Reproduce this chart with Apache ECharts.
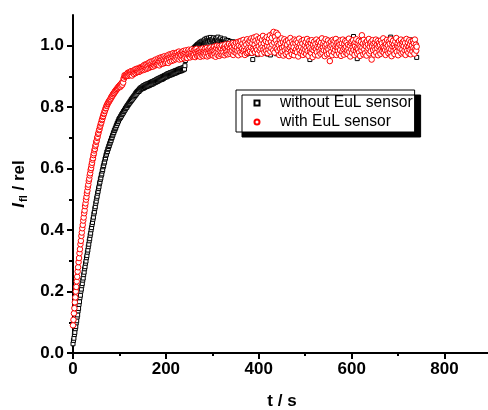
<!DOCTYPE html>
<html>
<head>
<meta charset="utf-8">
<script src="https://cdn.jsdelivr.net/npm/echarts@6/dist/echarts.min.js"></script>
<style>html,body{margin:0;padding:0;background:#fff;}#chart{width:488px;height:410px;}</style>
</head>
<body>
<div id="chart"></div>
<script>
// ---- data ----
const seriesNames = ['without EuL sensor', 'with EuL sensor'];
const xTickValues = [0, 200, 400, 600, 800];
const xMinorTickValues = [100, 300, 500, 700];
const yTickValues = [0, 0.2, 0.4, 0.6, 0.8, 1.0];
const yMinorTickValues = [0.1, 0.3, 0.5, 0.7, 0.9];

// measurement times (s)
const times = [
0,1,2,3,4,5,6,7,8,9,10,11,12,13,14,15,16,17,18,19,
20,21,22,23,24,25,26,27,28,29,30,31,32,33,34,35,36,37,38,39,
40,41,42,43,44,45,46,47,48,49,50,51,52,53,54,55,56,57,58,59,
60,61,62,63,64,65,66,67,68,69,70,71,72,73,74,75,76,77,78,79,
80,81,82,83,84,85,86,87,88,89,90,91,92,93,94,95,96,97,98,99,
100,101,102,103,104,105,106,107,108,109,110,111,112,113,114,115,116,117,118,119,
120,121,122,123,124,125,126,127,128,129,130,131,132,133,134,135,136,137,138,139,
140,141,142,143,144,145,146,147,148,149,150,151,152,153,154,155,156,157,158,159,
160,161,162,163,164,165,166,167,168,169,170,171,172,173,174,175,176,177,178,179,
180,181,182,183,184,185,186,187,188,189,190,191,192,193,194,195,196,197,198,199,
200,201,202,203,204,205,206,207,208,209,210,211,212,213,214,215,216,217,218,219,
220,221,222,223,224,225,226,227,228,229,230,231,232,233,234,235,236,237,238,239,
240,241,242,243,244,245,246,247,248,249,250,251,252,253,254,255,256,257,258,259,
260,261,262,263,264,265,266,267,268,269,270,271,272,273,274,275,276,277,278,279,
280,281,282,283,284,285,286,287,288,289,290,291,292,293,294,295,296,297,298,299,
300,301,302,303,304,305,306,307,308,309,310,311,312,313,314,315,316,317,318,319,
320,321,322,323,324,325,326,327,328,329,330,331,332,333,334,335,336,337,338,339,
340,341,342,343,344,345,346,347,348,349,350,351,352,353,354,355,356,357,358,359,
360,361,362,363,364,365,366,367,368,369,370,371,372,373,374,375,376,377,378,379,
380,381,382,383,384,385,386,387,388,389,390,391,392,393,394,395,396,397,398,399,
400,401,402,403,404,405,406,407,408,409,410,411,412,413,414,415,416,417,418,419,
420,421,422,423,424,425,426,427,428,429,430,431,432,433,434,435,436,437,438,439,
440,441,442,443,444,445,446,447,448,449,450,451,452,453,454,455,456,457,458,459,
460,461,462,463,464,465,466,467,468,469,470,471,472,473,474,475,476,477,478,479,
480,481,482,483,484,485,486,487,488,489,490,491,492,493,494,495,496,497,498,499,
500,501,502,503,504,505,506,507,508,509,510,511,512,513,514,515,516,517,518,519,
520,521,522,523,524,525,526,527,528,529,530,531,532,533,534,535,536,537,538,539,
540,541,542,543,544,545,546,547,548,549,550,551,552,553,554,555,556,557,558,559,
560,561,562,563,564,565,566,567,568,569,570,571,572,573,574,575,576,577,578,579,
580,581,582,583,584,585,586,587,588,589,590,591,592,593,594,595,596,597,598,599,
600,601,602,603,604,605,606,607,608,609,610,611,612,613,614,615,616,617,618,619,
620,621,622,623,624,625,626,627,628,629,630,631,632,633,634,635,636,637,638,639,
640,641,642,643,644,645,646,647,648,649,650,651,652,653,654,655,656,657,658,659,
660,661,662,663,664,665,666,667,668,669,670,671,672,673,674,675,676,677,678,679,
680,681,682,683,684,685,686,687,688,689,690,691,692,693,694,695,696,697,698,699,
700,701,702,703,704,705,706,707,708,709,710,711,712,713,714,715,716,717,718,719,
720,721,722,723,724,725,726,727,728,729,730,731,732,733,734,735,736,737,738,739,
740
];

// without EuL sensor (black squares), t = 0..740 s
const yWithout = [
0.030,0.041,0.048,0.060,0.067,0.079,0.086,0.098,0.105,0.117,
0.124,0.137,0.145,0.158,0.167,0.180,0.188,0.201,0.208,0.219,
0.226,0.237,0.244,0.255,0.263,0.274,0.281,0.292,0.299,0.310,
0.317,0.328,0.335,0.346,0.354,0.365,0.372,0.383,0.390,0.401,
0.408,0.418,0.425,0.435,0.442,0.453,0.459,0.470,0.476,0.487,
0.494,0.504,0.510,0.520,0.526,0.535,0.541,0.551,0.556,0.565,
0.570,0.579,0.583,0.592,0.597,0.606,0.610,0.618,0.622,0.631,
0.635,0.643,0.647,0.654,0.656,0.663,0.666,0.672,0.675,0.681,
0.684,0.690,0.692,0.699,0.701,0.707,0.710,0.716,0.718,0.724,
0.726,0.731,0.733,0.739,0.741,0.747,0.748,0.754,0.755,0.761,
0.762,
0.765,0.766,0.771,0.771,0.776,0.777,0.781,0.781,0.786,0.787,
0.791,0.791,0.796,0.797,0.801,0.800,0.805,0.806,0.809,0.811,
0.814,0.814,0.819,0.818,0.824,0.822,0.828,0.826,0.832,0.830,
0.836,0.834,0.840,0.838,0.845,0.842,0.849,0.846,0.852,0.850,
0.855,0.851,0.859,0.855,0.862,0.858,0.864,0.860,0.866,0.861,
0.869,0.862,0.870,0.864,0.872,0.866,0.874,0.867,0.875,0.869,
0.876,0.869,0.877,0.871,0.879,0.872,0.880,0.874,0.882,0.875,
0.883,0.876,0.884,0.878,0.886,0.880,0.887,0.881,0.889,0.883,
0.891,0.884,0.892,0.886,0.894,0.888,0.895,0.889,0.897,0.890,
0.898,0.891,0.900,0.893,0.901,0.895,0.903,0.897,0.904,0.899,
0.906,0.899,0.908,0.901,0.909,0.903,0.910,0.904,0.912,0.905,
0.912,0.906,0.914,0.907,0.915,0.909,0.916,0.910,0.918,0.911,
0.919,0.912,0.920,0.914,0.921,0.915,0.923,0.916,0.924,0.918,
0.925,0.918,0.926,0.919,0.927,0.921,0.928,0.922,0.929,0.924,
0.935,0.952,0.963,0.967,0.965,0.972,0.968,0.975,0.971,0.978,
0.974,0.981,0.977,0.984,0.979,0.987,0.982,0.989,0.985,0.992,
0.988,0.995,0.990,0.998,0.993,1.001,0.996,1.004,0.998,1.006,
1.000,1.009,1.003,1.011,1.004,1.013,1.006,1.015,1.002,1.012,
1.005,1.017,1.009,1.021,1.003,1.015,1.010,1.024,1.006,1.019,
1.011,1.025,1.004,1.018,1.013,1.027,1.007,1.020,1.002,1.016,
1.022,1.008,1.026,1.011,1.017,1.003,1.023,1.010,1.019,1.005,
1.014,1.028,1.006,1.018,1.001,1.021,1.012,1.025,1.004,1.016,
1.009,1.020,1.000,1.015,1.007,1.022,0.998,1.013,1.005,1.018,
0.996,1.012,1.003,1.017,0.994,1.009,1.001,1.014,0.992,1.006,
0.990,1.008,0.997,1.013,0.986,1.004,0.995,1.010,0.984,1.002,
0.993,1.011,0.982,1.005,0.996,0.979,1.009,0.988,1.014,0.991,
1.003,0.984,1.012,0.990,0.976,1.007,0.995,1.018,0.981,0.999,
1.010,0.987,0.972,1.004,0.993,1.016,0.979,1.001,0.989,1.013,
0.983,1.006,0.992,0.975,1.011,0.997,0.955,1.004,0.986,1.015,
0.978,0.998,1.009,0.984,1.017,0.991,0.971,1.005,0.994,1.012,
0.980,1.003,0.990,1.019,0.975,0.997,1.008,0.985,1.014,0.993,
1.006,0.977,0.996,1.011,0.988,1.021,0.982,1.000,0.973,1.009,
0.992,1.015,0.984,1.003,0.970,0.998,1.012,0.987,1.020,0.981,
1.005,0.993,1.016,0.978,1.008,0.989,1.002,0.974,1.013,0.996,
0.985,1.010,0.997,1.022,0.979,1.001,0.991,1.014,0.983,1.007,
0.972,0.999,1.018,0.986,1.004,0.993,1.011,0.977,0.995,1.016,
0.988,1.006,0.975,1.013,0.996,0.982,1.009,0.990,1.020,0.979,
1.002,0.994,1.015,0.983,1.007,0.971,0.998,1.012,0.987,1.004,
0.976,1.010,0.992,1.019,0.985,1.000,0.973,1.008,0.995,1.014,
0.981,1.003,0.989,1.016,0.977,0.997,1.011,0.984,1.006,0.993,
1.013,0.980,0.999,1.009,0.986,1.017,0.975,1.002,0.990,0.955,
1.005,0.988,1.014,0.979,0.996,1.010,0.983,1.001,0.974,1.012,
0.992,1.007,0.985,1.018,0.978,0.998,1.011,0.987,1.004,0.973,
1.009,0.994,1.016,0.982,1.003,0.989,1.013,0.976,0.997,1.008,
0.986,1.012,0.980,1.000,0.993,1.019,0.977,1.005,0.990,1.011,
0.983,0.998,1.015,0.975,1.007,0.991,1.002,0.985,1.017,0.979,
1.004,0.994,1.010,0.982,0.997,1.021,0.978,1.006,0.989,1.013,
0.976,1.001,0.992,1.016,0.984,1.008,0.970,0.999,1.011,0.987,
1.014,0.981,1.003,0.990,1.018,0.977,0.996,1.009,0.985,1.005,
0.993,1.012,0.979,1.000,0.988,1.015,0.974,1.007,0.995,1.010,
0.983,0.998,1.008,1.030,0.986,1.004,0.992,1.013,0.978,1.001,
0.994,0.958,1.006,0.989,1.016,0.980,1.003,0.991,1.011,0.976,
1.009,0.987,0.999,1.017,0.982,1.005,0.993,1.012,0.977,1.000,
0.990,1.014,0.984,1.006,0.973,0.998,1.010,0.986,1.019,0.992,
1.003,0.979,1.012,0.995,0.988,1.008,0.975,1.001,0.991,1.015,
0.983,1.006,0.996,1.018,0.980,0.999,1.011,0.987,1.004,0.972,
0.997,1.013,0.985,1.002,0.991,1.016,0.978,1.007,0.994,1.010,
0.981,0.999,1.014,0.988,1.005,0.974,1.000,1.012,0.986,1.003,
0.993,1.009,0.982,1.028,0.997,1.015,0.979,1.004,0.990,1.011,
0.977,1.002,0.994,1.017,0.984,1.007,0.989,1.013,0.976,0.999,
1.010,0.986,1.004,0.992,1.018,0.980,0.998,1.008,0.983,1.014,
0.995,1.006,0.978,1.001,0.990,1.016,0.985,1.003,0.973,1.009,
0.988,1.012,0.996,0.981,1.007,0.993,1.019,0.984,1.000,0.991,
1.011,0.979,1.005,0.994,0.986,1.013,0.998,0.982,1.002,0.962
];

// with EuL sensor (red circles), t = 0..740 s
const yWith = [
0.090,0.108,0.129,0.146,0.165,0.181,0.200,0.215,0.233,0.248,
0.265,0.279,0.296,0.309,0.325,0.338,0.354,0.365,0.381,0.392,
0.406,0.417,0.431,0.441,0.455,0.464,0.478,0.487,0.499,0.508,
0.520,0.528,0.540,0.548,0.560,0.567,0.578,0.585,0.596,0.602,
0.612,0.619,0.629,0.634,0.644,0.650,0.659,0.664,0.673,0.678,
0.687,0.691,0.700,0.704,0.713,0.717,0.725,0.728,0.736,0.740,
0.747,0.750,0.758,0.761,0.768,0.771,0.778,0.780,0.787,0.789,
0.796,0.797,0.804,0.805,0.810,0.812,0.816,0.817,0.821,0.822,
0.825,0.827,0.832,0.832,0.837,0.837,0.842,0.842,0.846,0.846,
0.851,0.851,0.855,0.855,0.859,0.859,0.863,0.862,0.867,0.866,
0.869,
0.872,0.866,0.875,0.870,0.879,0.873,0.883,0.880,0.894,0.893,
0.904,0.899,0.903,0.901,0.902,0.908,0.903,0.912,0.902,0.909,
0.913,0.904,0.915,0.907,0.917,0.909,0.903,0.916,0.911,0.919,
0.908,0.920,0.913,0.923,0.911,0.918,0.925,0.914,0.921,0.916,
0.926,0.915,0.923,0.929,0.917,0.927,0.920,0.931,0.922,0.928,
0.934,0.921,0.930,0.938,0.923,0.935,0.927,0.940,0.925,0.933,
0.942,0.927,0.936,0.945,0.929,0.939,0.948,0.931,0.941,0.934,
0.949,0.932,0.943,0.937,0.952,0.935,0.946,0.955,0.938,0.947,
0.940,0.954,0.943,0.959,0.948,0.936,0.957,0.945,0.962,0.941,
0.955,0.946,0.963,0.942,0.958,0.951,0.966,0.944,0.960,0.953,
0.947,0.965,0.953,0.969,0.944,0.961,0.956,0.972,0.949,0.964,
0.958,0.973,0.951,0.967,0.962,0.976,0.953,0.969,0.960,0.975,
0.956,0.971,0.963,0.978,0.958,0.970,0.966,0.981,0.955,0.973,
0.962,0.977,0.968,0.957,0.980,0.965,0.974,0.983,0.959,0.972,
0.978,0.963,0.985,0.969,0.975,0.960,0.982,0.971,0.987,0.966,
0.976,0.962,0.984,0.970,0.979,0.988,0.965,0.977,0.968,0.985,
0.971,0.986,0.963,0.980,0.974,0.990,0.967,0.982,0.976,0.969,
0.985,0.970,0.979,0.964,0.989,0.975,0.982,0.968,0.991,0.977,
0.966,0.984,0.973,0.990,0.969,0.981,0.976,0.993,0.965,0.983,
0.974,0.989,0.968,0.985,0.979,0.994,0.971,0.982,0.987,0.970,
0.991,0.968,0.985,0.997,0.973,0.988,0.964,0.993,0.979,1.000,
0.970,0.989,0.976,0.998,0.967,0.985,0.994,0.972,0.990,0.978,
1.001,0.971,0.988,0.978,0.996,0.969,0.992,1.004,0.975,0.987,
0.980,0.999,0.972,0.993,0.985,1.006,0.974,0.990,0.981,1.002,
0.977,0.995,0.984,1.008,0.970,0.991,1.003,0.979,0.997,0.986,
1.010,0.975,0.994,0.983,1.012,0.969,1.000,0.987,1.014,0.978,
0.996,1.016,0.973,0.990,1.007,0.981,1.019,0.986,0.999,0.970,
1.012,0.984,1.003,0.976,1.021,0.992,0.979,1.010,0.988,1.017,
0.982,1.014,0.995,1.024,0.977,1.008,0.990,1.019,0.985,1.027,
1.003,0.979,1.016,0.993,1.030,0.986,1.010,0.975,1.022,0.998,
1.013,0.984,1.025,0.991,1.006,0.974,1.019,0.996,1.032,0.987,
1.008,0.979,1.021,0.994,1.015,0.983,1.028,0.999,0.976,1.011,
0.988,1.023,0.997,1.034,0.981,1.012,0.992,1.026,1.004,1.040,
0.985,1.045,1.010,0.978,1.029,0.995,1.017,1.042,0.989,1.007,
1.036,0.983,1.002,0.970,1.019,0.990,1.008,0.976,1.024,0.993,
0.981,1.012,0.968,0.997,1.021,0.985,1.006,0.973,1.015,0.991,
1.003,0.977,1.018,0.989,0.966,1.010,0.994,1.025,0.980,0.999,
0.972,1.014,0.986,1.006,0.995,0.969,1.020,0.982,1.008,0.988,
1.017,0.979,0.998,1.011,0.965,0.993,1.023,0.984,1.004,0.975,
0.996,1.015,0.981,1.007,0.970,0.990,1.019,0.978,1.001,0.987,
1.012,0.973,0.994,1.022,0.983,1.005,0.967,0.998,1.016,0.980,
0.992,1.009,0.976,1.018,0.988,0.963,1.003,0.985,1.013,0.994,
0.971,1.006,0.989,1.020,0.979,0.997,1.011,0.968,0.993,1.015,
0.982,1.002,0.974,1.010,0.990,1.024,0.977,0.995,1.007,0.985,
1.014,0.966,0.999,1.021,0.983,1.004,0.972,0.992,1.017,0.988,
0.975,1.008,0.950,0.996,1.013,0.980,1.001,0.969,1.019,0.991,
1.005,0.978,1.016,0.987,0.998,1.022,0.970,0.994,1.010,0.983,
0.996,1.012,0.974,1.003,0.986,1.018,0.967,0.999,1.008,0.981,
1.020,0.989,0.971,1.006,0.993,1.015,0.978,0.997,1.011,0.984,
0.973,1.003,0.990,1.023,0.980,1.000,0.965,1.009,0.988,1.014,
0.977,0.995,1.018,0.986,1.005,0.970,0.999,1.012,0.983,1.021,
0.992,0.974,1.008,0.989,1.016,0.979,1.002,0.967,0.996,1.013,
0.985,1.034,0.994,1.007,0.972,1.019,0.988,1.001,0.976,1.010,
0.998,0.968,1.015,0.984,1.004,0.991,1.022,0.975,0.997,1.009,
0.982,1.013,0.955,0.999,1.018,0.986,1.006,0.971,0.994,1.011,
0.988,1.020,0.977,1.003,0.992,1.015,0.969,0.998,1.009,0.983,
1.002,0.974,1.017,0.990,1.008,0.981,0.996,1.024,0.978,0.993,
1.012,0.986,0.970,1.005,0.995,1.019,0.983,1.001,0.976,1.014,
0.991,1.007,0.979,1.021,0.988,0.966,1.010,0.997,1.016,0.984,
1.003,0.973,0.994,1.013,0.987,1.025,0.980,0.999,1.008,0.969,
0.996,1.015,0.982,1.004,0.991,1.020,0.975,1.006,0.988,1.012,
0.978,0.999,1.017,0.985,1.009,0.970,0.994,1.022,0.983,1.001,
1.011,0.977,0.996,1.018,0.987,1.005,0.972,1.014,0.990,1.000,
0.981,1.016,0.993,1.008,0.974,1.020,0.989,1.003,0.984,0.997
];

// ---- build chart ----
function pairs(xs, ys) {
  const n = Math.min(xs.length, ys.length);
  const out = [];
  for (let i = 0; i < n; i++) out.push([xs[i], ys[i]]);
  return out;
}
const FONT = 'Arial, "Liberation Sans", sans-serif';
const chart = echarts.init(document.getElementById('chart'), null, { renderer: 'canvas' });
const axisLineStyle = { color: '#000', width: 2 };

const option = {
  animation: false,
  backgroundColor: '#fff',
  textStyle: { fontFamily: FONT },
  grid: { left: 73, top: 15, width: 418, height: 338, containLabel: false, outerBoundsMode: 'none' },
  legend: {
    orient: 'vertical',
    left: 236,
    top: 90,
    padding: [5, 2, 2, 17.5],
    itemGap: 3,
    itemWidth: 5,
    itemHeight: 5,
    backgroundColor: '#fff',
    borderColor: '#000',
    borderWidth: 1,
    borderRadius: 0,
    shadowColor: '#000',
    shadowBlur: 0,
    shadowOffsetX: 6,
    shadowOffsetY: 5,
    selectedMode: false,
    data: [
      { name: seriesNames[0], icon: 'rect' },
      { name: seriesNames[1], icon: 'circle' }
    ],
    textStyle: { fontFamily: FONT, fontSize: 15.6, color: '#000', lineHeight: 16, padding: [0, 0, 0, 15.5] }
  },
  xAxis: [
    {
      type: 'value', min: 0, max: 900, position: 'bottom',
      axisLine: { show: true, onZero: false, lineStyle: axisLineStyle },
      axisTick: { show: true, length: 6, lineStyle: { color: '#000', width: 2 }, customValues: xTickValues },
      axisLabel: { show: true, margin: 8, fontFamily: FONT, fontSize: 17, fontWeight: 'bold', color: '#000', customValues: xTickValues },
      splitLine: { show: false },
      name: 't / s', nameLocation: 'middle', nameGap: 40,
      nameTextStyle: { fontFamily: FONT, fontSize: 17, fontWeight: 'bold', color: '#000' }
    },
    {
      type: 'value', min: 0, max: 900, position: 'bottom',
      axisLine: { show: false, onZero: false },
      axisTick: { show: true, length: 3, lineStyle: { color: '#000', width: 2 }, customValues: xMinorTickValues },
      axisLabel: { show: false },
      splitLine: { show: false }
    }
  ],
  yAxis: [
    {
      type: 'value', min: 0, max: 1.1, position: 'left',
      axisLine: { show: true, onZero: false, lineStyle: axisLineStyle },
      axisTick: { show: true, length: 6, lineStyle: { color: '#000', width: 2 }, customValues: yTickValues },
      axisLabel: {
        show: true, margin: 9, fontFamily: FONT, fontSize: 17, fontWeight: 'bold', color: '#000',
        customValues: yTickValues,
        formatter: function (v) { return Number(v).toFixed(1); }
      },
      splitLine: { show: false },
      name: '{i|I}{s|fl}{n| / rel}', nameLocation: 'middle', nameGap: 41, nameRotate: 90,
      nameTextStyle: {
        fontFamily: FONT, fontSize: 17, fontWeight: 'bold', color: '#000',
        rich: {
          i: { fontFamily: FONT, fontSize: 17, fontWeight: 'bold', fontStyle: 'italic', color: '#000' },
          s: { fontFamily: FONT, fontSize: 11, fontWeight: 'bold', color: '#000', padding: [9, 0, 0, 1] },
          n: { fontFamily: FONT, fontSize: 17, fontWeight: 'bold', color: '#000' }
        }
      }
    },
    {
      type: 'value', min: 0, max: 1.1, position: 'left',
      axisLine: { show: false, onZero: false },
      axisTick: { show: true, length: 4, lineStyle: { color: '#000', width: 2 }, customValues: yMinorTickValues },
      axisLabel: { show: false },
      splitLine: { show: false }
    }
  ],
  series: [
    {
      name: seriesNames[0], type: 'scatter', xAxisIndex: 0, yAxisIndex: 0,
      symbol: 'rect', symbolSize: 4,
      itemStyle: { color: '#fff', borderColor: '#000', borderWidth: 1, opacity: 1 },
      data: pairs(times, yWithout)
    },
    {
      name: seriesNames[1], type: 'scatter', xAxisIndex: 0, yAxisIndex: 0,
      symbol: 'circle', symbolSize: 5.5,
      itemStyle: { color: '#fff', borderColor: '#ff0000', borderWidth: 1, opacity: 1 },
      data: pairs(times, yWith)
    }
  ]
};
chart.setOption(option);
</script>
</body>
</html>
